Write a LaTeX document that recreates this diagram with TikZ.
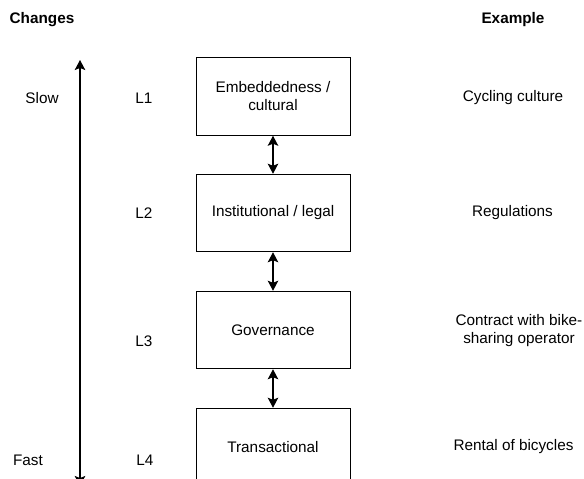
\documentclass[tikz,border=0pt]{standalone}
\usepackage{fontspec}
\setmainfont{Liberation Sans}
\usetikzlibrary{arrows.meta}

\tikzset{
  layerbox/.style={draw=black, line width=1pt, minimum width=154pt, minimum height=77.5pt,
    inner sep=0pt, align=center, font=\fontsize{15.3}{18}\selectfont},
  lbl/.style={inner sep=0pt, align=center, font=\fontsize{15.3}{18}\selectfont},
  hdr/.style={inner sep=0pt, font=\fontsize{15.3}{18}\selectfont\bfseries},
  head/.style={Stealth[length=10pt, width=10.5pt, inset=2pt]},
  link/.style={line width=1.2pt, {Stealth[length=10pt, width=10.5pt, inset=2pt]}-{Stealth[length=10pt, width=10.5pt, inset=2pt]}},
}

\begin{document}
\begin{tikzpicture}[x=1pt, y=-1pt]
  \useasboundingbox (0,0) rectangle (584,479);
  \clip (0,0) rectangle (584,479);

  % column headers
  \node[hdr] (hchg) at (42,20) {Changes};
  \node[hdr] (hex) at (513,20) {Example};

  % speed of change axis
  \coordinate (slowend) at (80,60);
  \coordinate (fastend) at (80,486);
  \draw[line width=1.2pt, {Stealth[length=10pt, width=10.5pt, inset=2pt]}-{Stealth[length=10pt, width=10.5pt, inset=2pt]}] (fastend) -- (slowend);
  \node[lbl] (slow) at (42,98) {Slow};
  \node[lbl] (fast) at (28,460) {Fast};

  % level tags
  \node[lbl] (l1) at (144,98) {L1};
  \node[lbl] (l2) at (144,213) {L2};
  \node[lbl] (l3) at (144,341) {L3};
  \node[lbl] (l4) at (145,460) {L4};

  % institutional layers
  \node[layerbox] (b1) at (273,96.5) {Embeddedness /\\cultural};
  \node[layerbox] (b2) at (273,213) {Institutional / legal};
  \node[layerbox] (b3) at (273,330) {Governance};
  \node[layerbox] (b4) at (273,447) {Transactional};

  \draw[link] (b1.south) -- (b2.north);
  \draw[link] (b2.south) -- (b3.north);
  \draw[link] (b3.south) -- (b4.north);

  % examples
  \node[lbl] (e1) at (513,98) {Cycling culture};
  \node[lbl] (e2) at (512.5,213) {Regulations};
  \node[lbl] (e3) at (519,331) {Contract with bike-\\sharing operator};
  \node[lbl] (e4) at (513.5,447) {Rental of bicycles};
\end{tikzpicture}
\end{document}
